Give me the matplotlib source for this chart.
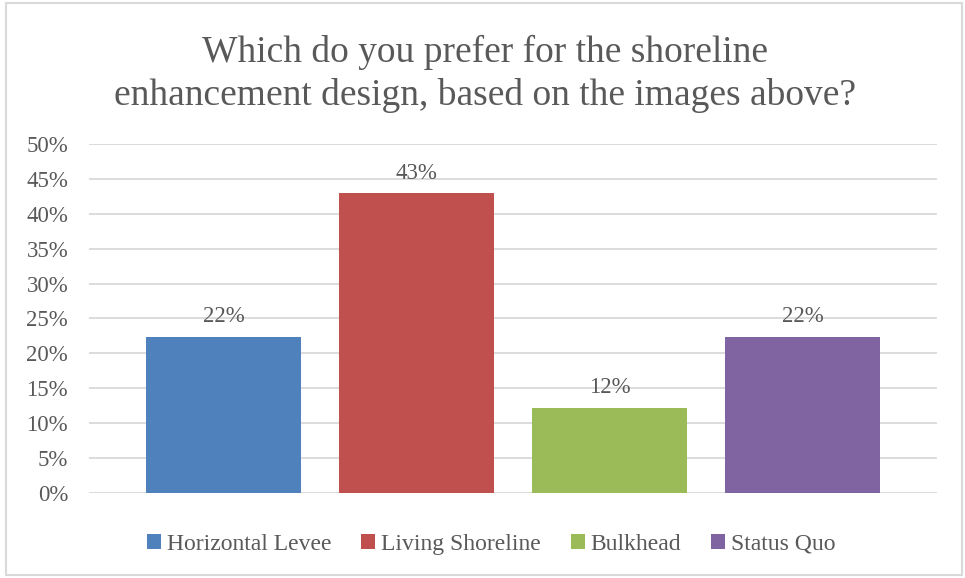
import matplotlib.pyplot as plt
from matplotlib.patches import Rectangle
from matplotlib.ticker import PercentFormatter

categories = ['Horizontal Levee', 'Living Shoreline', 'Bulkhead', 'Status Quo']
shares = [0.224, 0.429, 0.122, 0.224]
colors = ['#4f81bd', '#c0504d', '#9bbb59', '#8064a2']
y_ticks = [0.0, 0.05, 0.10, 0.15, 0.20, 0.25, 0.30, 0.35, 0.40, 0.45, 0.50]

text_color = '#595959'
grid_color = '#d9d9d9'

plt.rcParams['font.family'] = ['Liberation Serif', 'DejaVu Serif']

fig = plt.figure(figsize=(9.65, 5.78), dpi=100)
ax = fig.add_axes([0.0922, 0.147, 0.8788, 0.604])

x = range(len(categories))
bars = ax.bar(x, shares, width=0.803, color=colors, label=categories, zorder=3)

for bar, val in zip(bars, shares):
    ax.annotate(f'{val:.0%}', xy=(bar.get_x() + bar.get_width() / 2, val),
                xytext=(0, 7), textcoords='offset points',
                ha='center', va='bottom', fontsize=16.5, color=text_color)

ax.set_xlim(-0.697, 3.697)
ax.set_ylim(0, 0.5)
ax.set_yticks(y_ticks)
ax.yaxis.set_major_formatter(PercentFormatter(1.0, decimals=0))
ax.set_xticks([])
ax.tick_params(axis='y', length=0, pad=15, labelsize=16.5, labelcolor=text_color)
ax.grid(axis='y', color=grid_color, linewidth=1.3, zorder=0)
for side in ax.spines.values():
    side.set_visible(False)

fig.text(0.503, 0.872,
         'Which do you prefer for the shoreline\nenhancement design, based on the images above?',
         ha='center', va='center', fontsize=27, color=text_color, linespacing=1.3)

fig.legend(handles=bars, labels=categories, loc='center', bbox_to_anchor=(0.509, 0.058),
           ncol=4, frameon=False, fontsize=17, labelcolor=text_color,
           handlelength=0.6, handleheight=0.6, handletextpad=0.25, columnspacing=1.25)

# light frame around the whole chart
fig.patches.append(Rectangle((6 / 965, 3 / 578), 956 / 965, 572 / 578,
                             transform=fig.transFigure, fill=False,
                             edgecolor=grid_color, linewidth=1.5))

fig.savefig('out.png', dpi=100)
